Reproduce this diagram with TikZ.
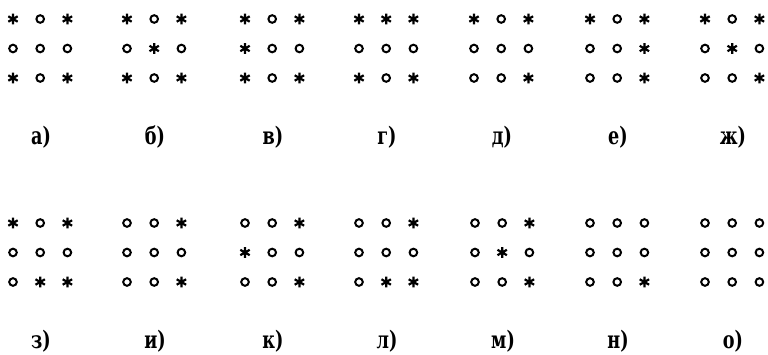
\documentclass[tikz,border=0pt]{standalone}
\usepackage{fontspec}
\newfontfamily\labfont{DejaVu Serif}[FakeStretch=0.84]
\begin{document}
\begin{tikzpicture}[x=1pt,y=-1pt,
  symline/.style={line width=2.2pt, line cap=butt},
  lab/.style={font=\labfont\bfseries\fontsize{21}{21}\selectfont, inner sep=0pt, anchor=center},
  pics/astk/.style={code={\draw[symline] (0,-5.4)--(0,5.4) (-4.7,-2.7)--(4.7,2.7) (-4.7,2.7)--(4.7,-2.7);}},
  pics/circ/.style={code={\draw[line width=2pt] (0,0) circle[radius=3.8];}}]
\useasboundingbox (0,0) rectangle (768,355);
\def\sS{s}
\foreach \nm/\xx/\yy/\lab/\pat in {
  a/13/19/а)/{s,o,s,o,o,o,s,o,s},
  b/127/19/б)/{s,o,s,o,s,o,s,o,s},
  v/245/19/в)/{s,o,s,s,o,o,s,o,s},
  g/359/19/г)/{s,s,s,o,o,o,s,o,s},
  d/474/19/д)/{s,o,s,o,o,o,o,o,s},
  e/590/19/е)/{s,o,s,o,o,s,o,o,s},
  zh/705/19/ж)/{s,o,s,o,s,o,o,o,s},
  z/13/223/з)/{s,o,s,o,o,o,o,s,s},
  i/127/223/и)/{o,o,s,o,o,o,o,o,s},
  k/245/223/к)/{o,o,s,s,o,o,o,o,s},
  l/359/223/л)/{o,o,s,o,o,o,o,s,s},
  m/475/223/м)/{o,o,s,o,s,o,o,o,s},
  n/590/223/н)/{o,o,o,o,o,o,o,o,s},
  o/705/223/о)/{o,o,o,o,o,o,o,o,o}}
{
  \node[lab] (\nm) at (\xx+28,\yy+118) {\scalebox{1}[1.15]{\lab}};
  \foreach \c [count=\i from 0] in \pat {
    \pgfmathtruncatemacro\col{mod(\i,3)}
    \pgfmathtruncatemacro\row{\i/3}
    \edef\tmp{\c}
    \ifx\tmp\sS
      \pic at (\xx+27.2*\col,\yy+29.5*\row) {astk};
    \else
      \pic at (\xx+27.2*\col,\yy+29.5*\row) {circ};
    \fi
  }
}
\end{tikzpicture}
\end{document}
